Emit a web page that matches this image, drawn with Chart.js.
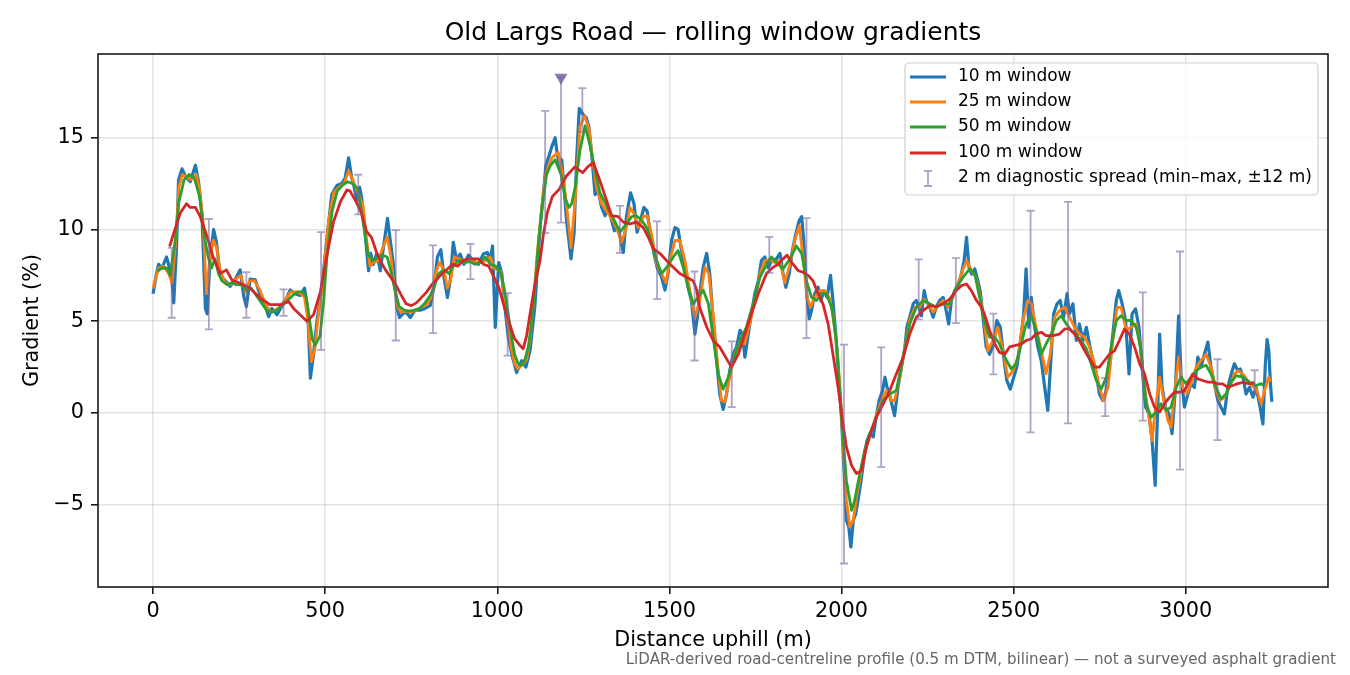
<!DOCTYPE html>
<html>
<head>
	<meta charset="utf-8">
	<title>Old Largs Road gradients</title>
	<script src="https://cdn.jsdelivr.net/npm/chart.js"></script>
	<style>
		body{
			margin: 0;
			background: #fff;
		}
		canvas{
			display: block;
		}
	</style>
</head>
<body>
	<canvas id="chart" width="1350" height="675"></canvas>
	<script>
		// distances (m) and gradients (%), one pair of arrays per window
		var dist10 = [
			0,8,16,26,39,48,55,60,68,74, 84,94,108,123,132,142,152,157,166,176,
			184,195,210,224,239,253,263,271,282,297, 311,326,336,345,360,370,384,398,413,427,
			440,449,457,466,476,490,505,519,534,548, 558,568,577,582,592,600,606,616,626,632,
			640,650,660,669,681,689,698,708,716,725, 735,747,761,776,790,805,816,826,836,845,
			855,863,872,882,892,903,916,930,945,959, 971,979,986,994,1004,1013,1022,1032,1042,1056,
			1071,1083,1095,1109,1119,1126,1134,1141,1150,1158, 1168,1174,1182,1187,1194,1201,1214,1223,1230,1238,
			1248,1258,1266,1274,1284,1293,1303,1313,1322,1332, 1340,1351,1366,1375,1387,1397,1406,1416,1426,1435,
			1445,1455,1464,1477,1487,1496,1506,1516,1525,1535, 1545,1554,1564,1574,1581,1588,1598,1608,1617,1627,
			1637,1646,1656,1666,1675,1685,1695,1705,1712,1719, 1729,1738,1748,1758,1767,1777,1787,1796,1811,1821,
			1830,1838,1848,1857,1867,1877,1884,1890,1898,1906, 1913,1922,1932,1940,1948,1958,1968,1975,1983,1991,
			1999,2006,2014,2021,2027,2034,2041,2049,2058,2067, 2074,2082,2092,2099,2109,2119,2126,2132,2140,2148,
			2154,2164,2174,2184,2190,2198,2208,2217,2225,2232, 2240,2246,2256,2266,2275,2285,2295,2302,2311,2319,
			2329,2338,2348,2356,2363,2370,2378,2387,2396,2403, 2411,2420,2430,2442,2451,2461,2471,2480,2490,2500,
			2509,2519,2529,2536,2544,2551,2561,2570,2580,2590, 2599,2609,2616,2626,2635,2645,2655,2662,2672,2682,
			2691,2701,2711,2720,2730,2740,2749,2759,2769,2778, 2788,2798,2805,2815,2825,2835,2844,2854,2864,2873,
			2883,2893,2902,2911,2919,2924,2931,2941,2951,2960, 2970,2979,2986,2996,3006,3015,3025,3035,3044,3054,
			3064,3073,3083,3093,3102,3112,3122,3132,3141,3151, 3158,3166,3175,3185,3195,3204,3214,3224,3231,3236,
			3241,3246,3250
		];
		var grad10 = [
			6.5,7.4,8.1,7.9,8.5,7.9,7.2,6.0,9.0,12.7, 13.3,12.9,12.6,13.5,12.6,10.8,5.7,5.4,8.6,10.0,
			9.3,7.5,7.2,6.9,7.3,7.8,6.4,5.8,7.3,7.25, 6.4,5.8,5.25,5.7,5.35,5.7,6.1,6.7,6.5,6.4,
			6.8,5.7,1.9,3.2,5.0,6.8,9.5,11.9,12.4,12.5, 12.8,13.9,12.8,12.5,11.6,12.3,11.7,9.75,7.75,8.7,
			8.1,8.7,7.75,9.0,10.6,9.4,8.1,5.76,5.2,5.4, 5.5,5.2,5.6,5.6,5.7,5.85,6.85,8.5,8.9,7.4,
			6.3,7.2,9.3,8.3,8.66,8.1,8.6,8.3,8.1,8.66, 8.75,8.3,9.1,4.67,8.2,7.6,5.76,4.1,3.2,2.2,
			2.85,2.5,3.4,5.8,8.7,10.5,12.0,13.5,14.0,14.5, 15.0,14.1,13.4,13.8,12.3,10.5,8.4,9.8,13.7,16.6,
			16.3,16.1,15.6,14.1,11.9,12.1,11.2,10.75,11.2,10.5, 9.93,10.1,8.75,10.7,12.0,11.4,9.85,10.5,11.2,11.0,
			9.75,8.7,7.94,7.4,6.7,7.6,9.4,10.1,10.0,8.85, 7.94,6.85,6.1,4.3,5.2,6.5,7.94,8.7,7.6,5.0,
			2.86,1.04,0.2,1.04,2.3,3.2,3.6,4.5,4.3,3.04, 4.3,5.4,6.5,7.2,8.3,8.5,7.9,8.3,8.4,8.7,
			7.6,6.85,7.6,8.85,9.75,10.5,10.7,9.4,6.67,5.13, 5.6,6.5,6.85,6.1,6.67,6.3,7.5,6.1,4.3,2.13,
			-0.05,-2.6,-5.85,-6.2,-7.3,-5.85,-5.5,-4.6,-3.5,-2.2, -1.5,-1.13,-1.3,-0.4,0.68,1.22,1.95,1.4,0.95,0.32,
			-0.14,1.4,2.5,3.6,4.7,5.22,5.95,6.13,5.76,5.3, 6.67,6.13,5.76,5.22,5.76,6.13,6.3,5.76,4.85,6.13,
			6.67,6.94,7.57,8.3,9.57,7.94,7.57,7.85,7.2,6.6, 5.2,3.6,3.2,3.76,5.04,4.67,3.04,1.77,1.3,1.95,
			2.5,3.76,5.4,7.85,4.67,6.3,4.67,3.6,2.86,1.4, 0.14,3.2,5.4,5.95,6.13,5.22,6.5,5.4,5.95,3.95,
			4.85,3.95,4.67,3.76,2.86,2.13,1.04,0.68,1.22,2.5, 4.3,6.13,6.67,5.95,5.04,2.13,5.4,5.67,4.67,2.5,
			0.32,-0.05,-1.5,-3.95,0.68,4.3,1.4,0.32,-0.05,-1.13, 1.4,5.3,2.13,0.32,1.04,1.59,1.4,3.04,2.5,3.2,
			3.86,2.5,1.59,0.68,0.32,-0.05,1.4,2.13,2.68,2.3, 2.4,1.95,1.04,1.4,0.86,1.4,0.5,-0.6,2.67,4.0,
			3.4,1.5,0.6
		];

		var dist25 = [
			0,16,30,45,55,65,75,85,95,110, 125,135,145,155,165,175,185,195,210,225,
			240,255,268,280,295,310,325,340,355,370, 385,400,415,430,440,450,460,470,480,495,
			510,525,540,555,568,580,595,610,620,630, 640,655,665,680,690,700,710,720,735,750,
			765,780,795,810,822,832,845,855,865,875, 890,905,920,935,950,965,980,990,1000,1010,
			1020,1030,1040,1050,1060,1075,1085,1095,1105,1115, 1128,1140,1158,1177,1192,1203,1214,1226,1240,1253,
			1266,1277,1288,1303,1317,1332,1346,1361,1375,1385, 1397,1409,1424,1435,1448,1463,1477,1490,1501,1516,
			1530,1545,1559,1574,1588,1603,1614,1627,1639,1651, 1661,1675,1690,1705,1719,1733,1748,1763,1777,1792,
			1806,1821,1835,1850,1864,1877,1888,1900,1910,1922, 1937,1951,1964,1975,1990,2004,2014,2024,2034,2045,
			2058,2072,2087,2101,2116,2130,2145,2154,2169,2184, 2198,2213,2227,2239,2251,2266,2280,2295,2309,2322,
			2335,2351,2364,2377,2390,2401,2413,2425,2440,2454, 2469,2483,2498,2512,2527,2541,2551,2565,2580,2594,
			2606,2619,2633,2648,2662,2677,2691,2706,2720,2735, 2749,2761,2774,2788,2800,2812,2827,2841,2856,2867,
			2880,2893,2902,2912,2924,2936,2948,2957,2967,2979, 2991,3003,3015,3030,3044,3059,3073,3088,3100,3112,
			3127,3141,3151,3166,3185,3204,3219,3228,3241,3245
		];
		var grad25 = [
			6.8,7.9,8.0,7.6,7.1,9.2,12.3,13.0,12.9,12.7, 13.0,12.2,10.5,6.5,8.4,9.4,9.0,7.7,7.1,7.0,
			7.3,7.5,6.6,7.2,7.2,6.7,6.0,5.5,5.6,5.8, 6.2,6.6,6.6,6.5,6.3,5.0,2.8,3.5,5.3,7.5,
			10.5,12.0,12.3,12.5,13.2,12.7,12.0,11.3,9.5,8.0, 8.2,8.3,8.9,9.6,8.6,7.0,5.8,5.5,5.55,5.5,
			5.6,5.8,5.9,6.4,7.7,8.2,7.8,6.8,7.3,8.5, 8.4,8.2,8.4,8.2,8.2,8.3,8.5,7.9,7.8,7.7,
			6.5,5.0,3.6,2.7,2.4,2.7,2.9,4.0,6.0,8.5, 11.0,13.0,13.9,14.2,12.8,11.0,9.0,11.6,15.6,16.2,
			15.5,13.8,12.3,11.4,11.0,10.6,10.1,9.3,10.1,11.2, 10.85,10.1,10.7,10.75,9.75,8.1,7.6,7.1,8.3,9.4,
			9.4,8.3,6.7,5.2,6.1,7.94,7.6,5.4,2.86,0.68, 0.6,1.95,3.2,3.95,3.76,4.85,6.1,7.6,8.3,8.35,
			8.2,8.3,7.1,8.1,9.4,10.2,8.5,6.3,5.76,6.3, 6.67,6.67,6.3,5.4,2.86,-1.5,-4.76,-6.2,-5.85,-4.4,
			-3.13,-1.86,-0.95,-0.14,0.68,1.22,0.68,0.68,1.95,3.6, 5.04,5.76,5.76,6.2,5.95,5.5,5.85,6.13,5.76,6.3,
			6.85,7.76,8.3,7.76,7.4,6.5,5.22,3.4,3.95,4.67, 3.4,1.95,2.3,3.04,5.04,6.13,5.95,4.67,3.4,2.13,
			3.2,5.22,5.58,5.76,5.22,4.67,4.3,4.13,3.6,2.68, 1.4,0.68,1.4,3.95,5.76,5.76,4.5,4.67,4.85,3.76,
			1.4,-0.23,-1.5,0.32,1.95,0.68,-0.41,-0.77,1.04,3.04, 1.4,1.04,1.59,2.5,2.86,3.2,2.5,1.22,0.68,0.86,
			1.4,2.13,2.3,2.13,1.6,1.3,0.5,1.2,1.95,1.7
		];

		var dist50 = [
			12,25,40,50,65,75,90,105,120,135, 150,160,170,180,190,200,215,230,240,255,
			270,285,300,315,330,345,360,375,390,405, 420,435,445,455,463,471,485,495,505,520,
			535,550,565,580,595,605,615,625,640,655, 665,680,690,705,715,730,745,760,775,790,
			805,815,830,845,860,875,890,905,920,935, 950,965,980,995,1010,1020,1030,1040,1050,1060,
			1070,1080,1090,1100,1110,1120,1130,1143,1155,1168, 1185,1197,1208,1216,1226,1240,1255,1269,1284,1298,
			1317,1337,1356,1375,1390,1404,1419,1434,1448,1463, 1477,1492,1511,1525,1540,1554,1569,1583,1598,1613,
			1627,1642,1656,1671,1685,1705,1724,1743,1763,1782, 1796,1811,1830,1850,1869,1884,1898,1913,1927,1942,
			1956,1971,1985,2000,2014,2029,2038,2053,2067,2082, 2101,2121,2140,2159,2179,2198,2217,2237,2256,2275,
			2295,2314,2333,2353,2372,2387,2401,2415,2430,2445, 2459,2474,2493,2507,2522,2536,2551,2565,2580,2594,
			2609,2624,2638,2653,2667,2682,2696,2711,2725,2740, 2754,2769,2783,2798,2812,2827,2841,2856,2870,2885,
			2899,2914,2928,2943,2957,2972,2986,3001,3015,3030, 3044,3059,3073,3088,3102,3117,3132,3146,3166,3185,
			3204,3219,3225
		];
		var grad50 = [
			7.7,7.9,7.9,7.5,9.5,11.5,12.7,13.0,12.8,11.8, 9.5,8.5,7.9,8.4,7.6,7.2,7.0,7.1,7.0,7.0,
			6.7,6.8,6.4,6.0,5.6,5.5,5.6,5.9,6.1,6.4, 6.6,6.6,6.3,5.0,4.0,3.7,4.2,6.0,8.5,11.0,
			12.1,12.4,12.6,12.5,12.2,11.0,9.8,8.6,8.3,8.5, 8.6,8.5,7.8,6.5,5.8,5.6,5.55,5.6,5.7,6.0,
			6.4,6.8,7.6,7.8,7.6,8.1,8.3,8.2,8.25,8.1, 8.2,8.5,8.1,8.0,7.6,6.8,5.6,4.3,3.2,2.7,
			2.6,2.9,3.6,5.0,7.0,9.4,11.2,13.0,13.5,13.8, 13.0,11.7,11.2,11.4,12.3,14.3,15.65,14.6,13.2,12.0,
			11.3,10.6,9.85,10.3,10.7,10.75,10.5,10.1,9.3,8.3, 7.6,7.94,8.5,8.85,7.94,6.85,5.95,6.3,6.7,5.95,
			4.1,2.1,1.3,1.95,2.86,3.95,4.7,5.95,7.4,8.1, 8.5,8.2,7.85,8.4,9.1,8.7,7.2,6.3,6.13,6.5,
			6.5,5.76,3.95,-0.23,-3.7,-5.3,-4.76,-3.3,-2.04,-1.13, -0.23,0.68,1.04,1.22,3.04,4.85,5.76,6.13,5.95,5.76,
			5.95,5.95,6.85,7.4,7.85,7.57,6.3,5.0,4.13,4.13, 3.76,3.04,2.4,2.68,3.76,4.85,5.3,4.5,3.2,3.76,
			4.3,5.04,5.3,4.85,4.5,4.22,3.95,3.5,2.68,1.77, 1.3,1.95,3.6,5.04,5.3,5.04,5.04,4.67,3.4,0.5,
			-0.23,0.05,0.5,0.14,0.32,1.4,1.95,1.59,1.95,2.3, 2.5,2.6,2.13,1.4,0.77,1.04,1.68,2.04,1.95,1.68,
			1.5,1.6,1.5
		];

		var dist100 = [
			48,65,79,97,108,123,137,157,176,195, 213,229,253,282,311,340,369,394,408,427,
			447,466,486,505,524,544,563,572,590,605, 620,635,650,660,675,690,705,720,735,750,
			765,780,795,810,825,840,855,870,885,900, 915,930,945,960,975,990,1005,1020,1035,1050,
			1065,1075,1085,1095,1110,1124,1134,1145,1160,1180, 1200,1225,1248,1262,1279,1298,1317,1332,1351,1366,
			1385,1404,1424,1438,1453,1472,1492,1511,1530,1550, 1569,1579,1588,1608,1627,1646,1666,1680,1700,1719,
			1738,1758,1782,1801,1816,1830,1842,1855,1874,1888, 1903,1917,1932,1946,1961,1975,1990,2000,2014,2029,
			2043,2058,2072,2087,2101,2121,2140,2159,2179,2198, 2217,2237,2256,2275,2295,2314,2333,2348,2363,2377,
			2392,2405,2415,2430,2445,2459,2474,2488,2503,2522, 2536,2551,2565,2580,2594,2614,2633,2648,2662,2677,
			2691,2706,2720,2735,2749,2764,2778,2793,2807,2822, 2836,2851,2866,2880,2895,2909,2924,2938,2953,2967,
			2982,2996,3011,3020,3035,3049,3064,3078,3093,3107, 3122,3136,3151,3166,3185,3199
		];
		var grad100 = [
			9.07,10.1,10.9,11.4,11.2,11.2,10.7,9.6,8.4,7.6, 7.8,7.25,7.07,6.8,6.25,5.9,5.9,6.07,5.7,5.35,
			5.0,5.35,6.6,8.6,10.4,11.5,12.15,12.1,11.5,10.9, 9.9,9.55,8.7,8.3,7.8,7.4,7.0,6.45,5.95,5.85,
			6.0,6.3,6.6,7.0,7.3,7.6,7.85,8.1,8.0,8.3, 8.4,8.4,8.4,8.1,8.0,7.4,6.8,5.8,4.9,4.05,
			3.7,3.5,4.2,5.4,7.1,8.3,9.75,10.9,11.8,12.2, 12.9,13.4,13.1,13.4,13.65,12.65,11.6,10.75,10.7,10.4,
			10.3,10.4,10.1,9.6,8.95,8.7,8.3,7.94,7.6,7.4, 7.2,6.7,5.75,4.7,3.95,3.6,2.95,2.5,3.2,4.3,
			5.4,6.5,7.6,7.94,8.1,8.4,8.6,8.2,7.76,7.67, 7.5,7.2,6.5,5.95,4.85,3.2,1.4,-0.05,-1.86,-2.86,
			-3.3,-3.13,-1.86,-0.95,-0.23,0.5,1.22,2.13,3.04,4.3, 5.22,5.58,5.85,5.8,5.95,6.2,6.67,6.94,7.03,6.67,
			6.13,5.8,5.4,4.5,3.76,3.3,3.2,3.6,3.67,3.76, 3.95,4.04,4.3,4.4,4.22,4.22,4.3,4.58,4.58,4.3,
			3.95,3.4,2.95,2.5,2.5,2.86,3.2,3.4,3.95,4.58, 4.3,3.6,2.68,2.13,1.04,0.32,0.05,0.5,0.86,1.13,
			1.13,1.22,1.77,2.13,1.86,1.77,1.68,1.68,1.59,1.59, 1.4,1.5,1.6,1.67,1.58,1.67
		];

		// 2 m diagnostic spread: min and max within +-12 m of each sample point
		var spreadAt = [54,162,271,379,488,596,705,813,922,1030,1139,1185,1247,1356,1464,1573,1681,1790,1898,2007,2115,2224,2332,2441,2549,2658,2766,2875,2983,3092,3200];
		var spreadLo = [5.19,4.56,5.19,5.29,3.44,10.82,3.95,4.35,7.29,3.13,9.8,10.37,15.3,8.72,6.2,2.86,0.32,7.64,4.08,-8.2,-2.95,5.1,4.9,2.11,-1.05,-0.56,-0.17,-0.41,-3.08,-1.48,1.02];
		var spreadHi = [9.0,10.57,7.67,6.74,9.85,12.98,9.96,9.13,9.22,6.53,16.46,18.3,17.7,11.28,10.44,7.71,3.9,9.6,10.62,3.73,3.58,8.37,8.44,5.42,11.02,11.5,1.9,6.57,8.8,2.93,2.33];

		var peakAt = [1185];
		var peakGrad = [18.28];

		var xTicks = [0, 500, 1000, 1500, 2000, 2500, 3000];
		var yTicks = [-5, 0, 5, 10, 15];

		var spreadColor = 'rgba(120,100,160,0.6)';
		var peakColor = 'rgba(120,100,160,0.85)';
		var fontName = '"DejaVu Sans", sans-serif';

		function pairs(xs, ys) {
			return xs.map(function(x, i) {
				return {x: x, y: ys[i]};
			});
		}

		function lineSet(label, xs, ys, color, width, order) {
			return {
				label: label,
				data: pairs(xs, ys),
				borderColor: color,
				backgroundColor: color,
				borderWidth: width,
				borderJoinStyle: 'round',
				pointRadius: 0,
				tension: 0,
				fill: false,
				order: order
			};
		}

		var decor = {
			id: 'decor',
			afterDatasetDraw: function(chart, args) {
				if (args.index !== 3) return;
				var ctx = chart.ctx;
				var xs = chart.scales.x;
				var ys = chart.scales.y;
				var a = chart.chartArea;
				ctx.save();
				ctx.beginPath();
				ctx.rect(a.left, a.top, a.right - a.left, a.bottom - a.top);
				ctx.clip();
				ctx.strokeStyle = spreadColor;
				ctx.lineWidth = 1.8;
				spreadAt.forEach(function(d, i) {
					var px = xs.getPixelForValue(d);
					var lo = ys.getPixelForValue(spreadLo[i]);
					var hi = ys.getPixelForValue(spreadHi[i]);
					ctx.beginPath();
					ctx.moveTo(px, lo);
					ctx.lineTo(px, hi);
					ctx.moveTo(px - 4, lo);
					ctx.lineTo(px + 4, lo);
					ctx.moveTo(px - 4, hi);
					ctx.lineTo(px + 4, hi);
					ctx.stroke();
				});
				ctx.restore();
			},
			afterDraw: function(chart) {
				var ctx = chart.ctx;
				var a = chart.chartArea;
				ctx.save();

				ctx.strokeStyle = '#1a1a1a';
				ctx.lineWidth = 1.6;
				ctx.strokeRect(a.left, a.top, a.right - a.left, a.bottom - a.top);

				ctx.fillStyle = '#000';
				ctx.font = '25px ' + fontName;
				ctx.textAlign = 'center';
				ctx.textBaseline = 'middle';
				ctx.fillText('Old Largs Road \u2014 rolling window gradients', (a.left + a.right) / 2, 33);

				ctx.fillStyle = '#666';
				ctx.font = '15.1px ' + fontName;
				ctx.textAlign = 'right';
				ctx.fillText('LiDAR-derived road-centreline profile (0.5 m DTM, bilinear) \u2014 not a surveyed asphalt gradient', 1336, 660);

				// legend
				var lx = 905, ly = 63, lw = 413, lh = 132;
				ctx.beginPath();
				ctx.roundRect(lx, ly, lw, lh, 4);
				ctx.fillStyle = 'rgba(255,255,255,0.8)';
				ctx.fill();
				ctx.strokeStyle = '#d0d0d0';
				ctx.lineWidth = 1.2;
				ctx.stroke();

				ctx.font = '17px ' + fontName;
				ctx.textAlign = 'left';
				ctx.textBaseline = 'middle';
				var rows = [77, 102, 127, 153];
				chart.data.datasets.slice(0, 4).forEach(function(ds, i) {
					ctx.strokeStyle = ds.borderColor;
					ctx.lineWidth = ds.borderWidth;
					ctx.beginPath();
					ctx.moveTo(910, rows[i]);
					ctx.lineTo(946, rows[i]);
					ctx.stroke();
					ctx.fillStyle = '#000';
					ctx.fillText(ds.label, 958, rows[i]);
				});
				ctx.strokeStyle = spreadColor;
				ctx.lineWidth = 1.8;
				ctx.beginPath();
				ctx.moveTo(928, 171);
				ctx.lineTo(928, 186);
				ctx.moveTo(924, 171);
				ctx.lineTo(932, 171);
				ctx.moveTo(924, 186);
				ctx.lineTo(932, 186);
				ctx.stroke();
				ctx.fillStyle = '#000';
				ctx.fillText('2 m diagnostic spread (min\u2013max, \u00b112 m)', 958, 178);

				ctx.restore();
			}
		};

		Chart.defaults.font.family = fontName;
		Chart.defaults.color = '#000';

		var ctx = document.getElementById('chart').getContext('2d');
		var myChart = new Chart(ctx, {
			type: 'line',
			data: {
				datasets: [
					lineSet('10 m window', dist10, grad10, '#1f77b4', 3.2, 4),
					lineSet('25 m window', dist25, grad25, '#ff7f0e', 2.8, 3),
					lineSet('50 m window', dist50, grad50, '#2ca02c', 2.8, 2),
					lineSet('100 m window', dist100, grad100, '#d62728', 2.8, 1),
					{
						label: 'steepest point',
						data: pairs(peakAt, peakGrad),
						showLine: false,
						pointStyle: 'triangle',
						rotation: 180,
						pointRadius: 7.5,
						pointBackgroundColor: peakColor,
						pointBorderColor: peakColor,
						pointBorderWidth: 0,
						order: 0
					}
				]
			},
			options: {
				responsive: false,
				animation: false,
				events: [],
				layout: {
					padding: {top: 54, right: 22, left: 0, bottom: 0}
				},
				plugins: {
					legend: {display: false},
					tooltip: {enabled: false},
					title: {display: false}
				},
				scales: {
					x: {
						type: 'linear',
						min: -160,
						max: 3413,
						afterBuildTicks: function(scale) {
							scale.ticks = xTicks.map(function(v) { return {value: v}; });
						},
						afterFit: function(scale) {
							scale.height = 88;
						},
						ticks: {
							font: {size: 20.8},
							color: '#000',
							padding: 5,
							maxRotation: 0,
							autoSkip: false,
							callback: function(v) {
								return String(v);
							}
						},
						grid: {
							color: 'rgba(0,0,0,0.1)',
							lineWidth: 1.6,
							tickLength: 7,
							tickColor: '#1a1a1a',
							tickWidth: 1.6
						},
						border: {display: false},
						title: {
							display: true,
							text: 'Distance uphill (m)',
							font: {size: 20.8},
							color: '#000',
							padding: {top: 0, bottom: 22}
						}
					},
					y: {
						type: 'linear',
						min: -9.48,
						max: 19.56,
						afterBuildTicks: function(scale) {
							scale.ticks = yTicks.map(function(v) { return {value: v}; });
						},
						afterFit: function(scale) {
							scale.width = 98;
						},
						ticks: {
							font: {size: 20.8},
							color: '#000',
							padding: 7,
							callback: function(v) {
								return v < 0 ? '\u2212' + Math.abs(v) : String(v);
							}
						},
						grid: {
							color: 'rgba(0,0,0,0.1)',
							lineWidth: 1.6,
							tickLength: 7,
							tickColor: '#1a1a1a',
							tickWidth: 1.6
						},
						border: {display: false},
						title: {
							display: true,
							text: 'Gradient (%)',
							font: {size: 20.8},
							color: '#000',
							padding: {top: 20, bottom: 0}
						}
					}
				}
			},
			plugins: [decor]
		});
	</script>
</body>
</html>
